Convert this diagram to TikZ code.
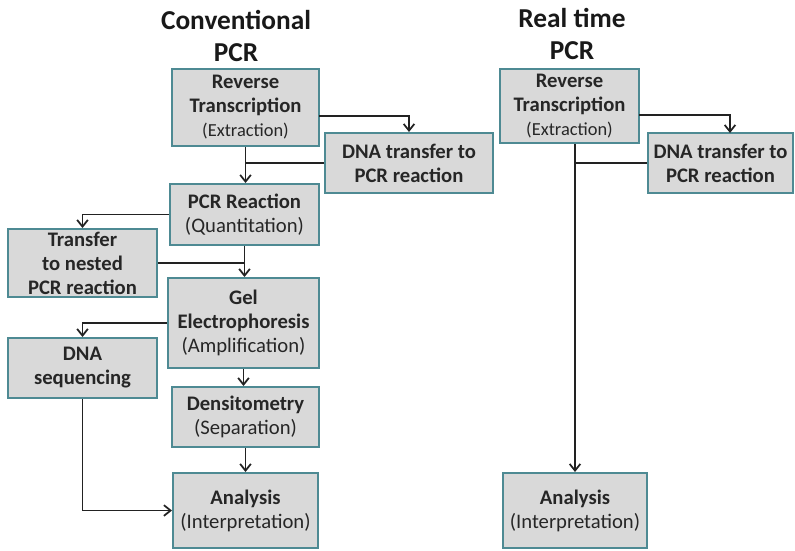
\documentclass[tikz,border=0pt]{standalone}
\usepackage{fontspec}
\setmainfont{Carlito}
\usetikzlibrary{arrows.meta}

\definecolor{boxfill}{HTML}{D9D9D9}
\definecolor{boxedge}{HTML}{4E8A93}
\definecolor{linecol}{HTML}{222222}

\tikzset{
  stepbox/.style={draw=boxedge, line width=1.5pt, fill=boxfill, align=center,
    inner sep=0pt, font=\fontsize{15.5}{18}\selectfont, text=black!85},
  title/.style={align=center, font=\fontsize{20.5}{24}\selectfont\bfseries, text=black!90},
  link/.style={draw=linecol, line width=1.4pt},
  arr/.style={link, -{Straight Barb[length=5pt,width=8pt,line width=1.3pt]}},
}
\newcommand{\sub}[1]{{\fontsize{13.8}{16}\selectfont #1}}

\begin{document}
\begin{tikzpicture}[x=0.75pt,y=-0.75pt]
\useasboundingbox (0,0) rectangle (795,550);

% column titles
\node[title] (t1) at (236,36) {Conventional\\PCR};
\node[title] (t2) at (572,34) {Real time\\PCR};

% conventional PCR column
\node[stepbox, minimum width=110.25pt, minimum height=57.75pt] (rt1) at (245.5,107.5)
  {\textbf{Reverse}\\\textbf{Transcription}\\\sub{(Extraction)}};
\node[stepbox, minimum width=126pt, minimum height=45pt] (dna1) at (409,163)
  {\textbf{DNA transfer to}\\\textbf{PCR reaction}};
\node[stepbox, minimum width=111.75pt, minimum height=45.75pt] (pcr) at (244.5,214.5)
  {\textbf{PCR Reaction}\\(Quantitation)};
\node[stepbox, minimum width=111.75pt, minimum height=51pt] (nest) at (82.5,263)
  {\textbf{Transfer}\\\textbf{to nested}\\\textbf{PCR reaction}};
\node[stepbox, minimum width=113.25pt, minimum height=67.5pt] (gel) at (243.5,323)
  {\textbf{Gel}\\\textbf{Electrophoresis}\\(Amplification)};
\node[stepbox, minimum width=111.75pt, minimum height=45pt] (seq) at (82.5,368)
  {\textbf{DNA}\\\textbf{sequencing}};
\node[stepbox, minimum width=110.25pt, minimum height=45pt] (dens) at (245.5,417)
  {\textbf{Densitometry}\\(Separation)};
\node[stepbox, minimum width=108.75pt, minimum height=56.25pt] (ana1) at (245.5,510.5)
  {\textbf{Analysis}\\(Interpretation)};

% real time PCR column
\node[stepbox, minimum width=104.25pt, minimum height=55.5pt] (rt2) at (569.5,106)
  {\textbf{Reverse}\\\textbf{Transcription}\\\sub{(Extraction)}};
\node[stepbox, minimum width=108.75pt, minimum height=45pt] (dna2) at (720.5,163)
  {\textbf{DNA transfer to}\\\textbf{PCR reaction}};
\node[stepbox, minimum width=108pt, minimum height=56.25pt] (ana2) at (575,510.5)
  {\textbf{Analysis}\\(Interpretation)};

% helper points for off-centre connectors
\coordinate (rt1out) at (319,116);
\coordinate (rt2out) at (639,115);
\coordinate (dna2in) at (730,133);

% conventional PCR connectors
\draw[arr] (rt1out) -| (dna1.north);
\draw[arr] (rt1.south) -- (rt1.south |- pcr.north);
\draw[link] (dna1.west) -- (rt1.south |- dna1.west);
\draw[arr] (pcr.west) -| (nest.north);
\draw[arr] (pcr.south) -- (pcr.south |- gel.north);
\draw[link] (nest.east) -- (pcr.south |- nest.east);
\draw[arr] (gel.west) -| (seq.north);
\draw[arr] (gel.south) -- (gel.south |- dens.north);
\draw[arr] (dens.south) -- (dens.south |- ana1.north);
\draw[arr] (seq.south) |- (ana1.west);

% real time PCR connectors
\draw[arr] (rt2out) -| (dna2in);
\draw[arr] (ana2.north |- rt2.south) -- (ana2.north);
\draw[link] (dna2.west) -- (ana2.north |- dna2.west);
\end{tikzpicture}
\end{document}
